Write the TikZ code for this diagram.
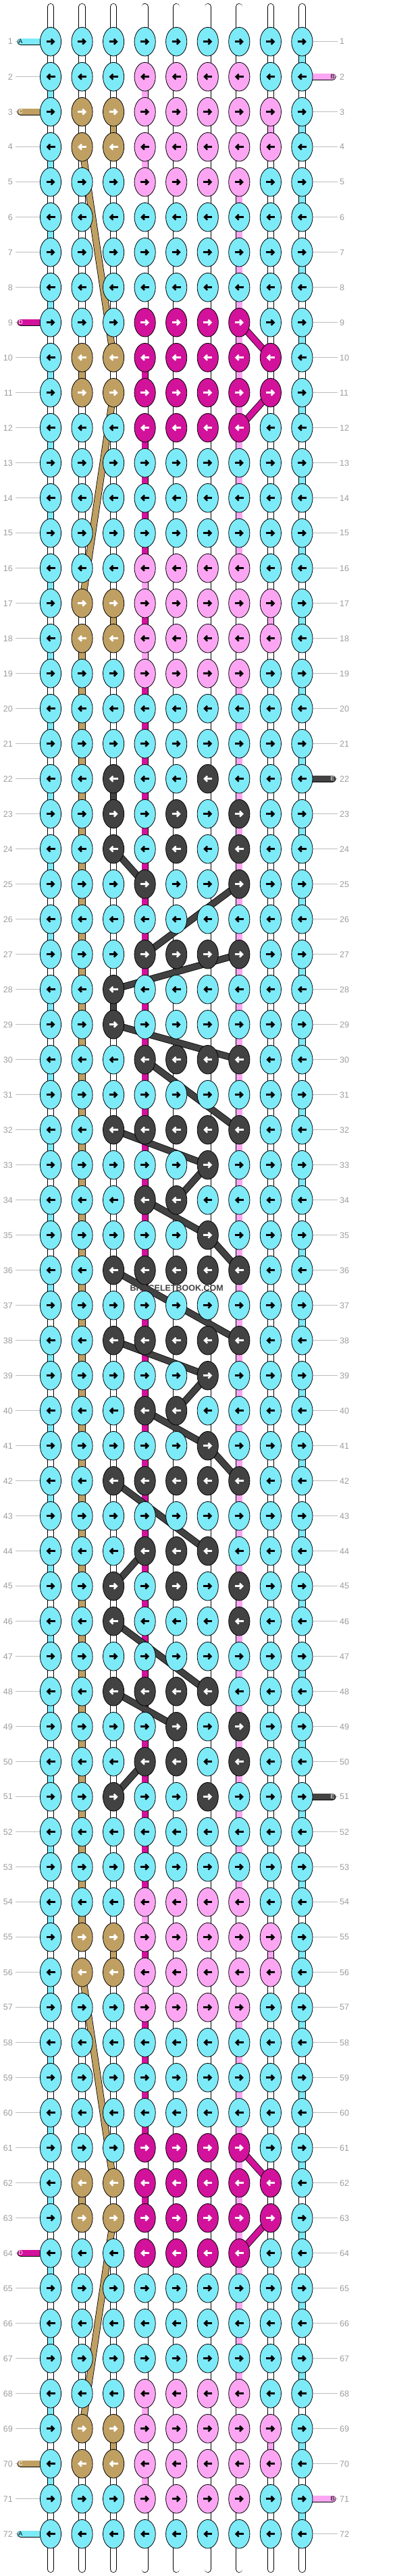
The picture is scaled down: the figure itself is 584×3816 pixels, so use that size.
\documentclass[tikz,border=0pt]{standalone}
\usepackage{fontspec}
\setmainfont{Liberation Sans}
\usetikzlibrary{arrows.meta,shapes.geometric}

% string colours
\definecolor{strA}{HTML}{7DEAF8}
\definecolor{strB}{HTML}{FCA6F3}
\definecolor{strC}{HTML}{C0A062}
\definecolor{strD}{HTML}{D2129B}
\definecolor{strE}{HTML}{424242}
\definecolor{strW}{HTML}{FFFFFF}
\definecolor{rowline}{HTML}{BDBDBD}
\definecolor{rownum}{HTML}{9C9C9C}
\colorlet{arrA}{black}
\colorlet{arrB}{black}
\colorlet{arrC}{white}
\colorlet{arrD}{white}
\colorlet{arrE}{white}

\pgfdeclarelayer{strings}
\pgfsetlayers{strings,main}

\tikzset{%
  >={Straight Barb[length=4pt,width=8pt]},
  % Specifications for style of nodes:
        knot/.style = {ellipse, draw=black, line width=0.8pt,
                       minimum width=31.2pt, minimum height=42.6pt,
                       inner sep=0pt},
   knotarrow/.style = {line width=2.6pt},
      rownum/.style = {text=rownum, inner sep=0pt,
                       font=\fontsize{12.5}{12.5}\selectfont},
    endlabel/.style = {inner sep=0pt, font=\fontsize{9}{9}\selectfont},
  % Specifications for style of strings:
        band/.style = {draw=black, line width=0.8pt, double distance=8.6pt},
     endband/.style = {band, line cap=round},
       guide/.style = {draw=rowline, line width=0.9pt},
}

% one row of knots, odd rows to the right, even rows to the left
\newcommand{\knotrow}[2]{%
  \foreach \clr [count=\col] in {#2} {%
    \node (k#1-\col) [knot, fill=str\clr]
      at ({75+(\col-1)*46.55},{61.7+(#1-1)*52}) {};
    \ifodd#1\relax
      \draw[knotarrow, draw=arr\clr, ->]
        ([xshift=-6.5pt]k#1-\col.center) -- ([xshift=6.5pt]k#1-\col.center);
    \else
      \draw[knotarrow, draw=arr\clr, <-]
        ([xshift=-6.5pt]k#1-\col.center) -- ([xshift=6.5pt]k#1-\col.center);
    \fi
  }%
}
% vertical piece of a string between row #1 and the next one
\newcommand{\vseg}[3]{%
  \pgfmathtruncatemacro{\nr}{#1+1}%
  \draw[band, double=str#3] (k#1-#2.center) -- (k\nr-#2.center);
}

\begin{document}
\begin{tikzpicture}[x=1pt, y=-1pt]
\useasboundingbox (0,0) rectangle (584,3816);

% knots
\foreach \r in {1,6,7,8,13,14,15,20,21,26,31,37,43,47,52,53,58,59,60,65,66,67,72}
  {\knotrow{\r}{A,A,A,A,A,A,A,A,A}}
\foreach \r in {2,5,16,19,54,57,68,71} {\knotrow{\r}{A,A,A,B,B,B,B,A,A}}
\foreach \r in {3,4,17,18,55,56,69,70} {\knotrow{\r}{A,C,C,B,B,B,B,B,A}}
\foreach \r in {9,12,61,64} {\knotrow{\r}{A,A,A,D,D,D,D,A,A}}
\foreach \r in {10,11,62,63} {\knotrow{\r}{A,C,C,D,D,D,D,D,A}}
\knotrow{22}{A,A,E,A,A,E,A,A,A}
\knotrow{23}{A,A,E,A,E,A,E,A,A}
\knotrow{24}{A,A,E,A,E,A,E,A,A}
\knotrow{25}{A,A,A,E,A,A,E,A,A}
\knotrow{27}{A,A,A,E,E,E,E,A,A}
\knotrow{28}{A,A,E,A,A,A,A,A,A}
\knotrow{29}{A,A,E,A,A,A,A,A,A}
\knotrow{30}{A,A,A,E,E,E,E,A,A}
\knotrow{32}{A,A,E,E,E,E,E,A,A}
\knotrow{33}{A,A,A,A,A,E,A,A,A}
\knotrow{34}{A,A,A,E,E,A,A,A,A}
\knotrow{35}{A,A,A,A,A,E,A,A,A}
\knotrow{36}{A,A,E,E,E,E,E,A,A}
\knotrow{38}{A,A,E,E,E,E,E,A,A}
\knotrow{39}{A,A,A,A,A,E,A,A,A}
\knotrow{40}{A,A,A,E,E,A,A,A,A}
\knotrow{41}{A,A,A,A,A,E,A,A,A}
\knotrow{42}{A,A,E,E,E,E,E,A,A}
\knotrow{44}{A,A,A,E,E,E,A,A,A}
\knotrow{45}{A,A,E,A,E,A,E,A,A}
\knotrow{46}{A,A,E,A,A,A,E,A,A}
\knotrow{48}{A,A,E,E,E,E,A,A,A}
\knotrow{49}{A,A,A,A,E,A,E,A,A}
\knotrow{50}{A,A,A,E,E,A,E,A,A}
\knotrow{51}{A,A,E,A,A,E,A,A,A}

% row numbers
\foreach \r in {1,...,72} {
  \node (L\r) [rownum, anchor=east] at (19,{61.7+(\r-1)*52}) {\r};
  \node (R\r) [rownum, anchor=west] at (503,{61.7+(\r-1)*52}) {\r};
}

% loose ends of the strings
\foreach \col in {1,...,9} {
  \coordinate (top\col) at ({75+(\col-1)*46.55},10);
  \coordinate (bot\col) at ({75+(\col-1)*46.55},3806);
}
\foreach \r/\s/\tc in {1/A/black, 3/C/white, 9/D/white,
                       64/D/white, 70/C/white, 72/A/black} {
  \coordinate (in\r) at (30.5,{61.7+(\r-1)*52});
  \node (tag\r) [endlabel, text=\tc] at (in\r) {\s};
}
\foreach \r/\s/\tc in {2/B/black, 22/E/white, 51/E/white, 71/B/black} {
  \coordinate (out\r) at (492.5,{61.7+(\r-1)*52});
  \node (tag\r) [endlabel, text=\tc] at (out\r) {\s};
}

\node (brand) [text=strE, font=\bfseries\fontsize{12.5}{12.5}\selectfont]
  at (261.7,1907.7) {BRACELETBOOK.COM};

\begin{pgfonlayer}{strings}
  % guide lines to the row numbers
  \foreach \r in {1,...,72} {
    \draw[guide, shorten <=4pt] (L\r.east) -- (k\r-1.center);
    \draw[guide, shorten >=3pt] (k\r-9.center) -- (R\r.west);
  }
  % vertical strings
  \foreach \r in {1,...,71} {
    \pgfmathtruncatemacro{\nr}{\r+1}
    \foreach \col in {1,...,9}
      \draw[band, double=strW] (k\r-\col.center) -- (k\nr-\col.center);
  }
  \foreach \col in {1,...,9} {
    \draw[endband, double=strW] (top\col) -- (k1-\col.center);
    \draw[endband, double=strW] (k72-\col.center) -- (bot\col);
  }
  % turns of the background string
  \foreach \r in {2,4,...,70} {\vseg{\r}{1}{A}}
  \foreach \r in {1,3,...,71} {\vseg{\r}{9}{A}}
  % coloured strings running down
  \foreach \r in {10,62} {\vseg{\r}{2}{C}}
  \foreach \r in {18,...,54} {\vseg{\r}{2}{C}}
  \foreach \r in {3,17,55,69} {\vseg{\r}{3}{C}}
  \foreach \r in {22,28} {\vseg{\r}{3}{E}}
  \foreach \r in {10,12,13,14,15,17,55,57,58,59,60,62} {\vseg{\r}{4}{D}}
  \foreach \r in {19,...,53} {\vseg{\r}{4}{D}}
  \foreach \r in {2,4,16,18,54,56,68,70} {\vseg{\r}{4}{B}}
  \foreach \r in {5,...,15} {\vseg{\r}{7}{B}}
  \foreach \r in {19,...,53} {\vseg{\r}{7}{B}}
  \foreach \r in {57,...,67} {\vseg{\r}{7}{B}}
  \foreach \r in {3,17,55,69} {\vseg{\r}{8}{B}}
  % background string across each row
  \foreach \r in {1,...,72}
    \foreach \col [evaluate=\col as \nxt using int(\col+1)] in {1,...,8}
      \draw[band, double=strA] (k\r-\col.center) -- (k\r-\nxt.center);
  % added strings at the sides
  \foreach \r/\s in {1/A, 3/C, 9/D, 64/D, 70/C, 72/A}
    \draw[endband, double=str\s] (in\r) -- (k\r-1.center);
  \foreach \r/\s in {2/B, 22/E, 51/E, 71/B}
    \draw[endband, double=str\s] (k\r-9.center) -- (out\r);
  % strings carried behind the knots
  \foreach \ra/\ca/\rb/\cb in {4/2/10/3, 11/3/17/2, 56/2/62/3, 63/3/69/2}
    \draw[band, double=strC] (k\ra-\ca.center) -- (k\rb-\cb.center);
  \foreach \ra/\ca/\rb/\cb in {9/7/10/8, 11/8/12/7, 61/7/62/8, 63/8/64/7}
    \draw[band, double=strD] (k\ra-\ca.center) -- (k\rb-\cb.center);
  \foreach \ra/\ca/\rb/\cb in {24/3/25/4, 25/7/27/4, 27/7/28/3, 29/3/30/7,
      30/4/32/7, 32/3/33/6, 33/6/34/5, 34/4/35/6, 35/6/36/7, 36/3/38/7,
      38/3/39/6, 39/6/40/5, 40/4/41/6, 41/6/42/7, 42/3/44/6, 44/4/45/3,
      46/3/48/6, 48/3/49/5, 50/4/51/3}
    \draw[band, double=strE] (k\ra-\ca.center) -- (k\rb-\cb.center);
\end{pgfonlayer}
\end{tikzpicture}
\end{document}
